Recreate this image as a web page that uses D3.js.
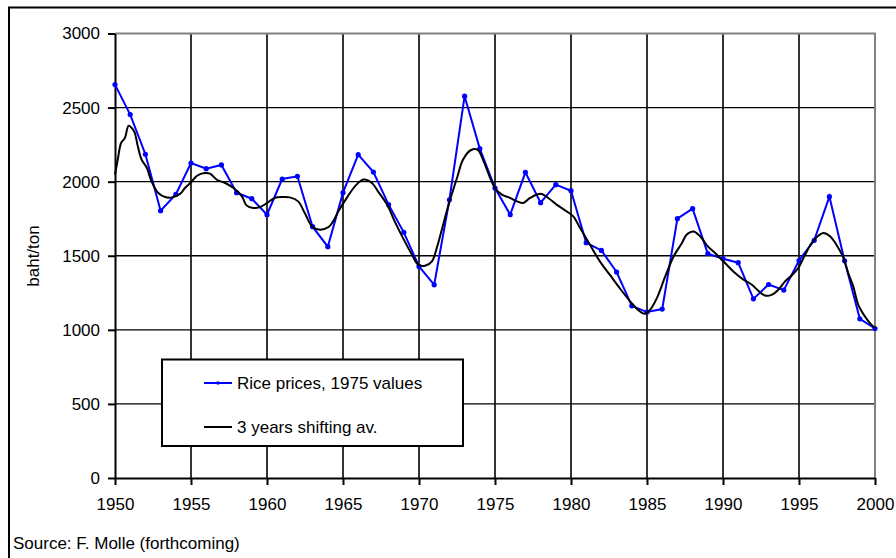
<!DOCTYPE html>
<html>
<head>
<meta charset="utf-8">
<script src="https://cdn.jsdelivr.net/npm/d3@7"></script>
<style>
  body { margin: 0; background: #fff; }
  svg text { font-family: Arial, "Liberation Sans", sans-serif; }
</style>
</head>
<body>
<svg id="chart" width="896" height="558"></svg>
<script>
// yearly rice prices (blue)
const years = [1950, 1951, 1952, 1953, 1954, 1955, 1956, 1957, 1958, 1959,
    1960, 1961, 1962, 1963, 1964, 1965, 1966, 1967, 1968, 1969,
    1970, 1971, 1972, 1973, 1974, 1975, 1976, 1977, 1978, 1979,
    1980, 1981, 1982, 1983, 1984, 1985, 1986, 1987, 1988, 1989,
    1990, 1991, 1992, 1993, 1994, 1995, 1996, 1997, 1998, 1999, 2000];
const riceValues = [2655, 2453, 2185, 1804, 1914, 2126, 2088, 2113, 1926, 1885,
    1777, 2018, 2036, 1696, 1561, 1926, 2182, 2065, 1845, 1658,
    1428, 1304, 1878, 2577, 2223, 1957, 1777, 2063, 1858, 1980,
    1939, 1588, 1536, 1390, 1162, 1120, 1140, 1750, 1818, 1514,
    1480, 1453, 1209, 1306, 1268, 1468, 1604, 1899, 1466, 1074, 1009];

// smoothed 3 year average (black)
const avgYears = [1950, 1950.2, 1950.4, 1950.65, 1950.9, 1951.15, 1951.3, 1951.5, 1951.75, 1952.1,
    1952.4, 1952.85, 1953.3, 1953.75, 1954.3, 1954.6, 1955, 1955.4, 1955.9, 1956.25,
    1956.7, 1957.25, 1957.8, 1958.35, 1958.65, 1959.1, 1959.55, 1960, 1960.5, 1961.05,
    1961.5, 1962.05, 1962.5, 1963, 1963.5, 1964.05, 1964.35, 1964.7, 1965.1, 1965.8,
    1966.35, 1966.9, 1967.3, 1967.9, 1968.4, 1968.95, 1969.5, 1969.95, 1970.4, 1970.85,
    1971.2, 1971.5, 1971.95, 1972.5, 1972.9, 1973.4, 1973.85, 1974.25, 1974.7, 1975,
    1975.45, 1976, 1976.45, 1976.85, 1977.3, 1978, 1978.5, 1979.05, 1979.7, 1980.15,
    1980.6, 1981.25, 1981.9, 1982.55, 1983.2, 1983.9, 1984.4, 1984.85, 1985.2, 1985.65,
    1986.2, 1986.75, 1987.3, 1987.6, 1988.05, 1988.5, 1989, 1989.6, 1990.13, 1990.68,
    1991.3, 1991.9, 1992.3, 1992.75, 1993.2, 1993.64, 1994.08, 1994.5, 1994.95, 1995.4,
    1995.83, 1996.27, 1996.6, 1997.04, 1997.5, 1997.9, 1998.24, 1998.57, 1998.9, 1999.34,
    1999.67, 2000];
const avgValues = [2047, 2160, 2261, 2295, 2378, 2356, 2330, 2239, 2149, 2092,
    2002, 1923, 1896, 1894, 1919, 1957, 1995, 2040, 2058, 2054,
    2013, 1991, 1957, 1901, 1840, 1822, 1829, 1856, 1890, 1896,
    1894, 1867, 1785, 1694, 1676, 1694, 1732, 1800, 1867, 1970,
    2014, 1991, 1935, 1845, 1732, 1619, 1514, 1439, 1432, 1462,
    1563, 1676, 1845, 2025, 2149, 2212, 2216, 2138, 2020, 1957,
    1912, 1890, 1867, 1856, 1890, 1919, 1890, 1845, 1800, 1766,
    1687, 1574, 1462, 1372, 1282, 1191, 1135, 1108, 1135, 1214,
    1360, 1495, 1586, 1642, 1664, 1631, 1563, 1507, 1451, 1394,
    1342, 1304, 1266, 1232, 1236, 1270, 1327, 1365, 1417, 1507,
    1586, 1635, 1653, 1631, 1568, 1491, 1383, 1293, 1169, 1090,
    1045, 1011];

const xTicks = [1950, 1955, 1960, 1965, 1970, 1975, 1980, 1985, 1990, 1995, 2000];
const yTicks = [0, 500, 1000, 1500, 2000, 2500, 3000];
const legendLabels = ["Rice prices, 1975 values", "3 years shifting av."];

const svg = d3.select("#chart");
const plot = { left: 115, right: 875, top: 33.5, bottom: 478 };

// outer frame (only top and left edges show)
svg.append("rect")
    .attr("x", 9).attr("y", 7.5)
    .attr("width", 900).attr("height", 600)
    .attr("fill", "none")
    .attr("stroke", "#000")
    .attr("stroke-width", 2);

const x = d3.scaleLinear().domain([1950, 2000]).range([plot.left, plot.right]);
const y = d3.scaleLinear().domain([0, 3000]).range([plot.bottom, plot.top]);

// gridlines
svg.append("g").selectAll("line")
    .data(yTicks.filter(d => d > 0 && d < 3000))
    .join("line")
    .attr("x1", plot.left).attr("x2", plot.right)
    .attr("y1", d => y(d)).attr("y2", d => y(d))
    .attr("stroke", "#000").attr("stroke-width", 1.3);

svg.append("g").selectAll("line")
    .data(xTicks.filter(d => d > 1950 && d < 2000))
    .join("line")
    .attr("x1", d => x(d)).attr("x2", d => x(d))
    .attr("y1", plot.top).attr("y2", plot.bottom)
    .attr("stroke", "#000").attr("stroke-width", 1.6);

// gray top and right edges of plot area
svg.append("path")
    .attr("d", `M${plot.left},${plot.top}H${plot.right}V${plot.bottom}`)
    .attr("fill", "none")
    .attr("stroke", "#808080")
    .attr("stroke-width", 2);

// axes
const yAxis = svg.append("g")
    .attr("transform", `translate(${plot.left},0)`)
    .call(d3.axisLeft(y).tickValues(yTicks).tickFormat(d3.format("d")).tickSize(7).tickPadding(8).tickSizeOuter(0));
const xAxis = svg.append("g")
    .attr("transform", `translate(0,${plot.bottom})`)
    .call(d3.axisBottom(x).tickValues(xTicks).tickFormat(d3.format("d")).tickSize(7).tickPadding(13).tickSizeOuter(0));

[yAxis, xAxis].forEach(a => {
    a.select(".domain").attr("stroke", "#000").attr("stroke-width", 2);
    a.selectAll(".tick line").attr("stroke", "#000").attr("stroke-width", 2);
    a.selectAll(".tick text").attr("fill", "#000").style("font-size", "17px");
});

// lines
const avgLine = d3.line()
    .x((d, i) => x(avgYears[i]))
    .y(d => y(d))
    .curve(d3.curveCatmullRom);

const riceLine = d3.line()
    .x((d, i) => x(years[i]))
    .y(d => y(d));

svg.append("path")
    .datum(riceValues)
    .attr("fill", "none")
    .attr("stroke", "#0000ff")
    .attr("stroke-width", 2)
    .attr("d", riceLine);

svg.append("g").selectAll("circle")
    .data(riceValues)
    .join("circle")
    .attr("cx", (d, i) => x(years[i]))
    .attr("cy", d => y(d))
    .attr("r", 2.6)
    .attr("fill", "#0000ff");

svg.append("path")
    .datum(avgValues)
    .attr("fill", "none")
    .attr("stroke", "#000")
    .attr("stroke-width", 2)
    .attr("d", avgLine);

// y label
svg.append("text")
    .attr("transform", "translate(39,256) rotate(-90)")
    .attr("text-anchor", "middle")
    .style("font-size", "17px")
    .text("baht/ton");

// legend
const legend = svg.append("g");
legend.append("rect")
    .attr("x", 162).attr("y", 359.5)
    .attr("width", 301).attr("height", 86.5)
    .attr("fill", "#fff")
    .attr("stroke", "#000")
    .attr("stroke-width", 2);

const legendColors = ["#0000ff", "#000"];
const legendY = [383, 427];
legendLabels.forEach((label, i) => {
    legend.append("line")
        .attr("x1", 204).attr("x2", 232)
        .attr("y1", legendY[i]).attr("y2", legendY[i])
        .attr("stroke", legendColors[i]).attr("stroke-width", 2);
    if (i === 0) {
        legend.append("circle")
            .attr("cx", 218).attr("cy", legendY[i]).attr("r", 1.8)
            .attr("fill", legendColors[i]);
    }
    legend.append("text")
        .attr("x", 237).attr("y", legendY[i] + 6)
        .style("font-size", "17px")
        .text(label);
});

// source note
svg.append("text")
    .attr("x", 13).attr("y", 549)
    .style("font-size", "17px")
    .text("Source: F. Molle (forthcoming)");
</script>
</body>
</html>
